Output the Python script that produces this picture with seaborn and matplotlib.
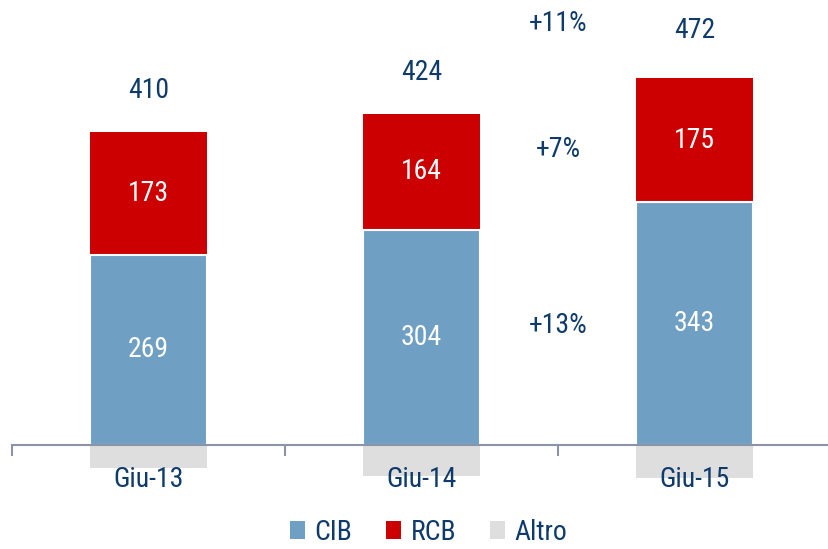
import matplotlib
matplotlib.use("Agg")
import matplotlib.pyplot as plt
from matplotlib.patches import Patch
from matplotlib import font_manager
import seaborn as sns
import pandas as pd
import numpy as np

categories = ["Giu-13", "Giu-14", "Giu-15"]
cib = [269, 304, 343]
rcb = [173, 164, 175]
totals = [410, 424, 472]
altro = [t - c - r for t, c, r in zip(totals, cib, rcb)]
series_names = ["CIB", "RCB", "Altro"]

BLUE = "#6fa0c4"
RED = "#cc0000"
GREY = "#dedede"
NAVY = "#0f3b6c"

sns.set_theme(style="white")
names = {f.name for f in font_manager.fontManager.ttflist}
fam = "DejaVu Sans"
for cand in ["Liberation Sans Narrow", "DejaVu Sans Condensed", "Roboto Condensed", "Open Sans Condensed"]:
    if cand in names:
        fam = cand
        break
plt.rcParams["font.family"] = [fam, "DejaVu Sans"]
plt.rcParams["font.stretch"] = "condensed"

fig = plt.figure(figsize=(8.29, 5.49), dpi=100)
ax = fig.add_axes([12 / 829, 61.5 / 549, 819 / 829, 481.5 / 549])
ax.set_axisbelow(False)

df = pd.DataFrame({"cat": categories, "cib": cib, "rcb": rcb, "altro": altro})
df["pos"] = df["cib"] + df["rcb"]

W = 0.43
sns.barplot(data=df, x="cat", y="pos", color=RED, saturation=1, width=W, ax=ax,
            edgecolor="none", order=categories)
sns.barplot(data=df, x="cat", y="cib", color=BLUE, saturation=1, width=W, ax=ax,
            edgecolor="white", linewidth=1.5, order=categories)
sns.barplot(data=df, x="cat", y="altro", color=GREY, saturation=1, width=W, ax=ax,
            edgecolor="none", order=categories)

ax.set_xlim(-0.5, 2.5)
ax.set_ylim(-60, 620)

FS = 20
for i in range(len(categories)):
    ax.text(i, cib[i] / 2, str(cib[i]), ha="center", va="center", color="white", fontsize=FS)
    ax.text(i, cib[i] + rcb[i] / 2, str(rcb[i]), ha="center", va="center", color="white", fontsize=FS)
    top = cib[i] + rcb[i]
    ax.text(i, top + 58 + (10 if i == 2 else 0), str(totals[i]), ha="center", va="center",
            color=NAVY, fontsize=FS)

# growth labels between last two bars
g_cib = round((cib[2] / cib[1] - 1) * 100)
g_rcb = round((rcb[2] / rcb[1] - 1) * 100)
g_tot = round((totals[2] / totals[1] - 1) * 100)
xg = 1.5
ax.text(xg, cib[2] / 2 - 3, f"+{g_cib}%", ha="center", va="center", color=NAVY, fontsize=FS)
ax.text(xg, 418, f"+{g_rcb}%", ha="center", va="center", color=NAVY, fontsize=FS)
ax.text(xg, 595, f"+{g_tot}%", ha="center", va="center", color=NAVY, fontsize=FS)

for s in ["top", "right", "left"]:
    ax.spines[s].set_visible(False)
ax.spines["bottom"].set_position(("data", 0))
ax.spines["bottom"].set_color("#8a93a8")
ax.spines["bottom"].set_linewidth(1.5)
ax.set_yticks([])
ax.set_xlabel("")
ax.set_ylabel("")
ax.set_xticks(range(len(categories)))
ax.set_xticklabels(categories, fontsize=FS, color=NAVY)
ax.tick_params(axis="x", which="major", length=0, pad=15)
ax.set_xticks([-0.5, 0.5, 1.5, 2.5], minor=True)
ax.tick_params(axis="x", which="minor", length=8, width=1.5, color="#8a93a8", direction="out", bottom=True)

handles = [Patch(facecolor=c, edgecolor="none") for c in (BLUE, RED, GREY)]
fig.legend(handles, series_names, loc="lower center", bbox_to_anchor=(0.517, -0.04), ncol=3,
           frameon=False, fontsize=FS, labelcolor=NAVY, handlelength=0.55, handleheight=0.6,
           handletextpad=0.35, columnspacing=1.2)

fig.savefig("out.png", dpi=100)
